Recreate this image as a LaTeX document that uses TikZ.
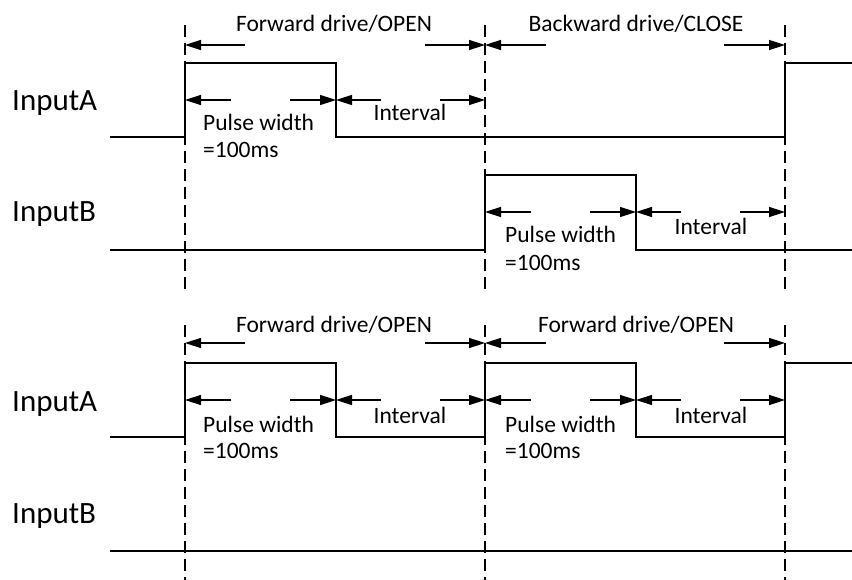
\documentclass[tikz,border=0pt]{standalone}
\usepackage{fontspec}
\setmainfont{Carlito}
\usetikzlibrary{arrows.meta}
\tikzset{
  sig/.style={line width=2pt, line join=miter},
  guide/.style={line width=1.4pt, dash pattern=on 12pt off 6pt},
  dimline/.style={line width=1.5pt, -{Triangle[length=16pt,width=10pt]}},
  lbl/.style={inner sep=0pt, font=\fontsize{23.5}{28}\selectfont},
  signame/.style={inner sep=0pt, anchor=base west, font=\fontsize{31}{36}\selectfont}
}
\newcommand\dimpair[5]{% y, left x, right x, length, name
  \coordinate (#5l) at (#2,#1);
  \coordinate (#5r) at (#3,#1);
  \draw[dimline] ([xshift=#4pt]#5l) -- (#5l);
  \draw[dimline] ([xshift=-#4pt]#5r) -- (#5r);
}
\begin{document}
\begin{tikzpicture}[x=1pt,y=-1pt]
\useasboundingbox (0,0) rectangle (852,580);
\fill[white] (0,0) rectangle (852,580);

% guide lines
\foreach \gx in {185,485,785}{
  \draw[guide] (\gx,25) -- (\gx,292);
  \draw[guide] (\gx,325) -- (\gx,580);
}

% signal names
\node[signame] (nA1) at (12,111) {InputA};
\node[signame] (nB1) at (12,222) {InputB};
\node[signame] (nA2) at (12,411) {InputA};
\node[signame] (nB2) at (12,523) {InputB};

% signals
\draw[sig] (110,137) -- (185,137) -- (185,63) -- (336,63) -- (336,137) -- (785,137) -- (785,63) -- (852,63);
\draw[sig] (110,250) -- (485,250) -- (485,175) -- (636,175) -- (636,250) -- (852,250);
\draw[sig] (110,437) -- (185,437) -- (185,363) -- (336,363) -- (336,437) -- (485,437) -- (485,363) -- (636,363) -- (636,437) -- (785,437) -- (785,363) -- (852,363);
\draw[sig] (110,551) -- (852,551);

% top section dimensions
\dimpair{45}{185}{485}{60}{fa}
\dimpair{45}{485}{785}{61}{ba}
\dimpair{100}{185}{336}{46}{pa}
\dimpair{100}{336}{485}{45}{ia}
\dimpair{212}{485}{636}{46}{pb}
\dimpair{212}{636}{785}{45}{ib}

% bottom section dimensions
\dimpair{343}{185}{485}{60}{fc}
\dimpair{343}{485}{785}{61}{fd}
\dimpair{400}{185}{336}{46}{pc}
\dimpair{400}{336}{485}{45}{ic}
\dimpair{400}{485}{636}{46}{pd}
\dimpair{400}{636}{785}{45}{id}

% labels top
\node[lbl, anchor=base] (t1) at (334,32) {Forward drive/OPEN};
\node[lbl, anchor=base] (t2) at (636,32) {Backward drive/CLOSE};
\node[lbl, anchor=base west] (p1) at (203,131) {Pulse width};
\node[lbl, anchor=base west] (m1) at (203,158) {=100ms};
\node[lbl, anchor=base] (i1) at (410,121) {Interval};
\node[lbl, anchor=base west] (p2) at (505,243) {Pulse width};
\node[lbl, anchor=base west] (m2) at (505,271) {=100ms};
\node[lbl, anchor=base] (i2) at (711,235) {Interval};

% labels bottom
\node[lbl, anchor=base] (t3) at (334,333) {Forward drive/OPEN};
\node[lbl, anchor=base] (t4) at (636,333) {Forward drive/OPEN};
\node[lbl, anchor=base west] (p3) at (203,432) {Pulse width};
\node[lbl, anchor=base west] (m3) at (203,458) {=100ms};
\node[lbl, anchor=base] (i3) at (410,423) {Interval};
\node[lbl, anchor=base west] (p4) at (505,432) {Pulse width};
\node[lbl, anchor=base west] (m4) at (505,458) {=100ms};
\node[lbl, anchor=base] (i4) at (711,423) {Interval};
\end{tikzpicture}
\end{document}
